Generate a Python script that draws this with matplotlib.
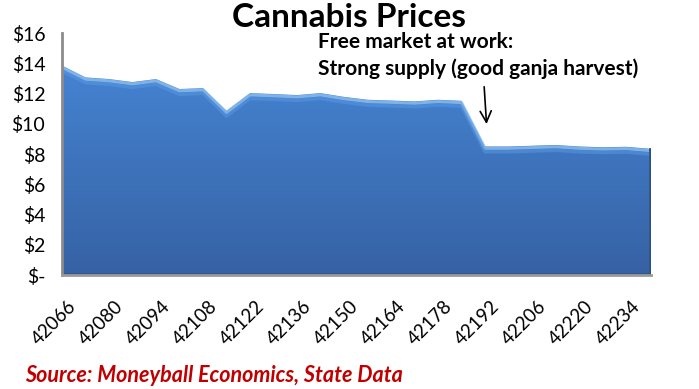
import numpy as np
import matplotlib
matplotlib.use("Agg")
import matplotlib.pyplot as plt
from matplotlib.patches import Polygon
from matplotlib.transforms import ScaledTranslation

plt.rcParams['font.family'] = ['Lato', 'DejaVu Sans']

# weekly dates (Excel serial numbers) and average price
dates = [42066, 42073, 42080, 42087, 42094, 42101, 42108, 42115, 42122, 42129,
         42136, 42143, 42150, 42157, 42164, 42171, 42178, 42185, 42192, 42199,
         42206, 42213, 42220, 42227, 42234, 42241]
prices = [13.85, 13.07, 12.96, 12.76, 12.96, 12.30, 12.36, 10.86, 12.03, 11.97,
          11.90, 12.03, 11.78, 11.59, 11.54, 11.48, 11.59, 11.52, 8.50, 8.50,
          8.55, 8.60, 8.50, 8.45, 8.48, 8.35]
tick_dates = dates[::2]
y_ticks = [0, 2, 4, 6, 8, 10, 12, 14, 16]
y_labels = ["$-"] + ["$%d" % v for v in y_ticks[1:]]

fig = plt.figure(figsize=(6.99, 3.89), dpi=100)
ax = fig.add_axes([0.0887, 0.293, 0.842, 0.622])

x = np.array(dates, dtype=float)
y = np.array(prices)

# gradient fill clipped to the area
grad = np.linspace(0, 1, 256).reshape(-1, 1)
cmap = matplotlib.colors.LinearSegmentedColormap.from_list(
    "blu", ["#3662a4", "#4788d8"])
img = ax.imshow(grad, extent=[x[0], x[-1], 0, 16], origin="lower",
                cmap=cmap, aspect="auto", zorder=1)
verts = np.vstack([np.column_stack([x, y]), [[x[-1], 0], [x[0], 0]]])
poly = Polygon(verts, closed=True, facecolor="none", edgecolor="none")
ax.add_patch(poly)
img.set_clip_path(poly)

# bevel highlight along the top edge
ax.plot(x, y - 0.12, color="#8fc0f0", lw=2.2, alpha=0.8, zorder=2,
        solid_joinstyle="round")
ax.plot(x, y - 0.35, color="#5a9ae4", lw=2.5, alpha=0.5, zorder=2)
# shadow on right and bottom edges
ax.plot([x[-1], x[-1]], [0, y[-1]], color="#2c4f80", lw=2, zorder=2)
ax.plot([x[0], x[-1]], [0.08, 0.08], color="#2c4f80", lw=2, alpha=0.6, zorder=2)

ax.set_xlim(x[0], x[-1] + 0.3)
ax.set_ylim(0, 16)
ax.set_yticks(y_ticks)
ax.set_yticklabels(y_labels, fontsize=14)
ax.set_xticks(tick_dates)
ax.set_xticklabels([str(d) for d in tick_dates], rotation=45, ha="right",
                   va="top", rotation_mode="anchor", fontsize=13.5)
ax.tick_params(length=0)
ax.tick_params(axis="y", pad=12)
ax.tick_params(axis="x", pad=16)
shift = ScaledTranslation(4 / 72, 0, fig.dpi_scale_trans)
for lbl in ax.get_xticklabels():
    lbl.set_transform(lbl.get_transform() + shift)

for s in ["top", "right"]:
    ax.spines[s].set_visible(False)
ax.spines["left"].set_color("#8c8c8c")
ax.spines["left"].set_linewidth(2)
ax.spines["bottom"].set_color("#9a9a9a")
ax.spines["bottom"].set_linewidth(2)

fig.text(0.5, 0.955, "Cannabis Prices", ha="center", va="center",
         fontsize=24, fontweight="bold")
fig.text(318 / 699, 1 - 42 / 389, "Free market at work:", ha="left",
         va="center", fontsize=15, fontweight="bold")
fig.text(318 / 699, 1 - 69 / 389, "Strong supply (good ganja harvest)",
         ha="left", va="center", fontsize=15, fontweight="bold")
ax.annotate("", xy=(42192.5, 9.8), xycoords="data",
            xytext=(484 / 699, 1 - 84 / 389), textcoords="figure fraction",
            arrowprops=dict(arrowstyle="->", color="black", lw=1.2,
                            mutation_scale=20))
fig.text(25 / 699, 1 - 375 / 389, "Source: Moneyball Economics, State Data",
         ha="left", va="center", fontsize=15.5, fontweight="bold",
         fontstyle="italic", color="#c00000")

fig.savefig("out.png", dpi=100)
